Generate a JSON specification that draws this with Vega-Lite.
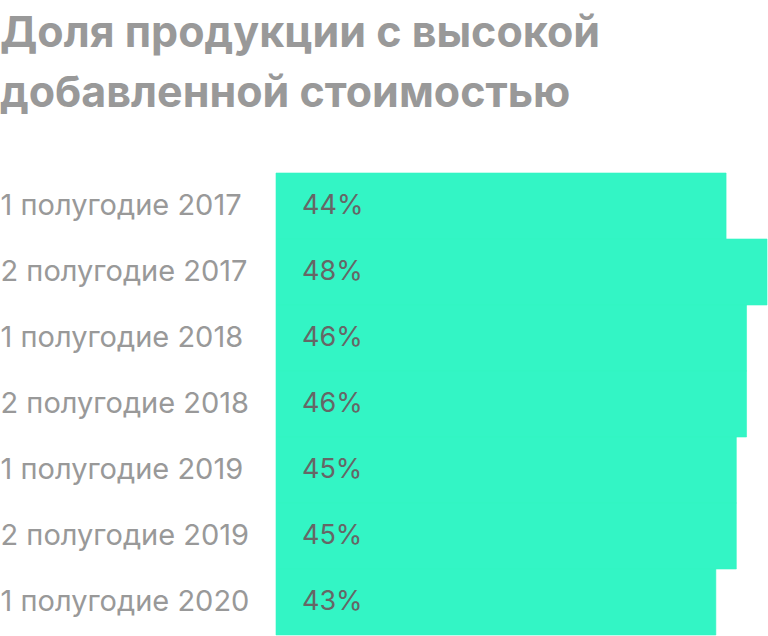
{
  "$schema": "https://vega.github.io/schema/vega-lite/v6.json",
  "autosize": {"type": "fit", "contains": "padding"},
  "width": 768,
  "height": 636,
  "padding": {"top": 12, "left": 0, "right": 0, "bottom": 0},
  "background": "white",
  "title": {
    "text": ["Доля продукции с высокой", "добавленной стоимостью"],
    "anchor": "start",
    "font": "Inter",
    "fontSize": 43,
    "fontWeight": "bold",
    "color": "#999999",
    "baseline": "top",
    "lineHeight": 60,
    "offset": 57
  },
  "data": {
    "values": [
      {"period": "1 полугодие 2017", "share": 0.44},
      {"period": "2 полугодие 2017", "share": 0.48},
      {"period": "1 полугодие 2018", "share": 0.46},
      {"period": "2 полугодие 2018", "share": 0.46},
      {"period": "1 полугодие 2019", "share": 0.45},
      {"period": "2 полугодие 2019", "share": 0.45},
      {"period": "1 полугодие 2020", "share": 0.43}
    ]
  },
  "encoding": {
    "y": {
      "field": "period",
      "type": "nominal",
      "sort": null,
      "scale": {"paddingInner": 0, "paddingOuter": 0},
      "axis": {
        "title": null,
        "domain": false,
        "ticks": false,
        "labelAlign": "left",
        "labelPadding": 276,
        "labelFont": "Inter",
        "labelFontSize": 29,
        "labelColor": "#999999",
        "labelLimit": 400
      }
    }
  },
  "layer": [
    {
      "mark": {"type": "bar", "color": "#33f5c5", "stroke": "#33f5c5", "strokeWidth": 0.6},
      "encoding": {
        "x": {
          "field": "share",
          "type": "quantitative",
          "scale": {"domain": [0, 0.48], "nice": false},
          "axis": null
        }
      }
    },
    {
      "mark": {
        "type": "text",
        "align": "left",
        "baseline": "middle",
        "dx": 26,
        "font": "Inter",
        "fontSize": 27,
        "color": "#666666"
      },
      "encoding": {
        "x": {"datum": 0, "type": "quantitative"},
        "text": {"field": "share", "type": "quantitative", "format": ".0%"}
      }
    }
  ],
  "config": {"view": {"stroke": null}}
}
